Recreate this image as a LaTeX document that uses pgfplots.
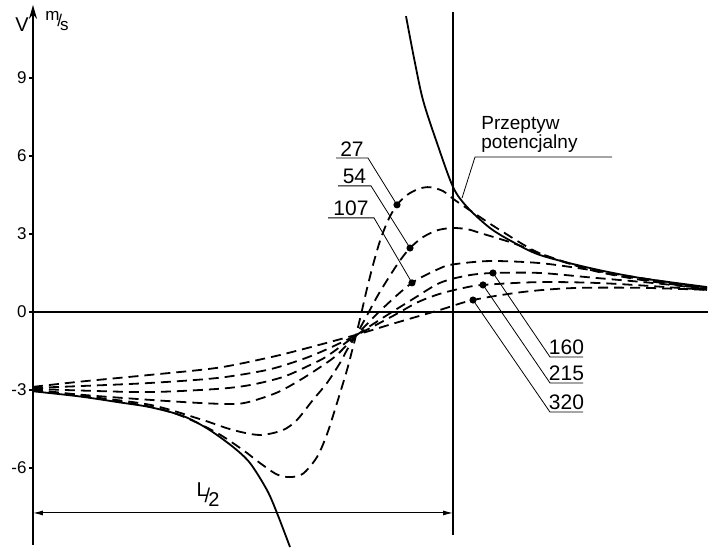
\documentclass[border=0pt]{standalone}
\usepackage{pgfplots}
\pgfplotsset{compat=1.18}
\usepackage{fontspec}
\setmainfont{Liberation Sans}
\usetikzlibrary{arrows.meta}
\begin{document}
\begin{tikzpicture}
\begin{axis}[
 scale only axis, width=342.5pt, height=270pt,
 xmin=0, xmax=685, ymin=-8.96, ymax=11.81,
 axis x line=none, axis y line=left,
 y axis line style={line width=0.9pt, -{Stealth[length=7pt,width=4pt]}},
 ytick={-6,-3,0,3,6,9}, yticklabels={-6,-3,0,3,6,9},
 yticklabel style={font=\fontsize{8.5}{10}\selectfont, inner sep=1pt},
 tick align=outside, major tick length=2pt, tick style={line width=0.6pt, black},
 clip=false,
 every axis plot/.append style={line width=0.9pt, black},
]
\path (axis cs:-33,-9.115) rectangle (axis cs:685,12.0);
% zero line and vertical line
\draw[line width=0.7pt] (axis cs:0,0) -- (axis cs:675,0);
\draw[line width=0.9pt] (axis cs:420,11.54) -- (axis cs:420,-8.58);
% potential flow (solid)
\addplot[smooth, tension=0.5] coordinates {(0,-3.05) (47,-3.25) (87,-3.48) (117,-3.66) (150,-4.0) (175,-4.5) (200,-5.19) (217,-5.81) (234,-6.85) (244,-7.73) (257,-9.04)};
\addplot[smooth, tension=0.5] coordinates {(373,11.38) (381,9.77) (390,8.15) (404,6.5) (420,4.81) (434,4.04) (457,3.23) (480,2.69) (507,2.19) (557,1.69) (607,1.31) (674,0.96)};
% dashed curves
\begin{scope}[dash pattern=on 5pt off 3pt]
\addplot[smooth, tension=0.5, dash pattern=on 5pt off 3pt] coordinates {(0,-3.02) (47,-3.23) (117,-3.64) (150,-4.02) (184,-4.65) (210,-5.31) (227,-5.81) (244,-6.25) (257,-6.35) (270,-6.22) (284,-5.58) (294,-4.7) (304,-3.5) (314,-2.23) (319,-1.5) (323,-0.9) (328,-0.1) (334,0.9) (341,1.95) (348,2.85) (356,3.6) (364,4.12) (374,4.5) (386,4.74) (397,4.8) (410,4.65) (422,4.3) (444,3.73) (467,3.15) (507,2.25) (557,1.64) (607,1.27) (674,0.92)};
\addplot[smooth, tension=0.5, dash pattern=on 5pt off 3pt] coordinates {(0,-3.0) (47,-3.22) (117,-3.57) (167,-4.12) (200,-4.54) (227,-4.73) (250,-4.54) (264,-4.15) (280,-3.38) (294,-2.73) (307,-1.96) (314,-1.46) (323,-0.9) (333,-0.2) (345,0.65) (357,1.4) (367,1.98) (377,2.46) (390,2.88) (405,3.15) (420,3.23) (435,3.18) (447,3.04) (480,2.65) (507,2.25) (557,1.62) (607,1.24) (674,0.89)};
\addplot[smooth, tension=0.5, dash pattern=on 5pt off 3pt] coordinates {(0,-2.98) (47,-3.18) (117,-3.38) (167,-3.5) (200,-3.54) (217,-3.45) (244,-3.1) (267,-2.62) (290,-2.05) (304,-1.65) (323,-0.9) (350,0.15) (379,1.12) (407,1.68) (420,1.83) (457,1.96) (507,1.88) (557,1.62) (607,1.31) (674,0.92)};
\addplot[smooth, tension=0.5, dash pattern=on 5pt off 3pt] coordinates {(0,-2.95) (47,-3.02) (117,-3.08) (184,-2.96) (217,-2.81) (250,-2.5) (277,-2.04) (294,-1.7) (323,-0.9) (350,-0.22) (380,0.5) (407,1.12) (434,1.4) (460,1.5) (507,1.5) (557,1.33) (624,1.1) (674,0.88)};
\addplot[smooth, tension=0.5, dash pattern=on 5pt off 3pt] coordinates {(0,-2.92) (47,-2.85) (117,-2.73) (184,-2.54) (234,-2.23) (267,-1.85) (290,-1.5) (323,-0.9) (360,-0.15) (385,0.38) (407,0.7) (430,0.92) (450,1.04) (507,1.15) (574,1.1) (674,0.85)};
\addplot[smooth, tension=0.5, dash pattern=on 5pt off 3pt] coordinates {(0,-2.88) (47,-2.68) (117,-2.42) (184,-2.15) (234,-1.77) (267,-1.46) (323,-0.88) (360,-0.45) (407,0.08) (440,0.46) (490,0.77) (540,0.92) (607,0.93) (674,0.85)};
\end{scope}
% dots at leader ends
\addplot[only marks, mark=*, mark size=1.3pt] coordinates {(364,4.12) (377,2.46) (379,1.12) (460,1.5) (450,1.04) (440,0.46)};
% leaders
\begin{scope}[line width=0.4pt]
\draw (axis cs:364,4.12) -- (axis cs:335,5.92) -- (axis cs:303,5.92);
\draw (axis cs:377,2.46) -- (axis cs:338,4.85) -- (axis cs:305,4.85);
\draw (axis cs:379,1.12) -- (axis cs:341,3.62) -- (axis cs:295,3.62);
\draw (axis cs:460,1.5) -- (axis cs:517,-1.73) -- (axis cs:550,-1.73);
\draw (axis cs:450,1.04) -- (axis cs:517,-2.73) -- (axis cs:550,-2.73);
\draw (axis cs:440,0.46) -- (axis cs:517,-3.85) -- (axis cs:550,-3.85);
\draw (axis cs:429,4.38) -- (axis cs:442,5.96) -- (axis cs:579,5.96);
\end{scope}
\begin{scope}[every node/.style={font=\fontsize{10.5}{12}\selectfont, inner sep=0.8pt, anchor=south}]
\node at (axis cs:319,5.92) {27};
\node at (axis cs:321.5,4.85) {54};
\node at (axis cs:318,3.62) {107};
\node at (axis cs:533.5,-1.73) {160};
\node at (axis cs:533.5,-2.73) {215};
\node at (axis cs:533.5,-3.85) {320};
\end{scope}
\node[anchor=south west, align=left, inner sep=0pt, font=\fontsize{9.5}{9.5}\selectfont] at (axis cs:448,6.12) {Przeptyw\\potencjalny};
\node[font=\fontsize{10}{12}\selectfont] at (axis cs:-11,11.05) {V};
\node[font=\fontsize{8.5}{10}\selectfont] at (axis cs:24,11.2) {\raisebox{3pt}{m}\kern-1pt/\kern-1pt\raisebox{-2pt}{s}};
\node[font=\fontsize{10}{12}\selectfont] at (axis cs:175,-7.04) {\raisebox{3pt}{L}\kern-1.5pt/\kern-1pt\raisebox{-2pt}{2}};
\draw[line width=0.5pt, {Latex[length=5pt,width=2.5pt]}-{Latex[length=5pt,width=2.5pt]}] (axis cs:0,-7.73) -- (axis cs:420,-7.73);
\end{axis}
\end{tikzpicture}
\end{document}
